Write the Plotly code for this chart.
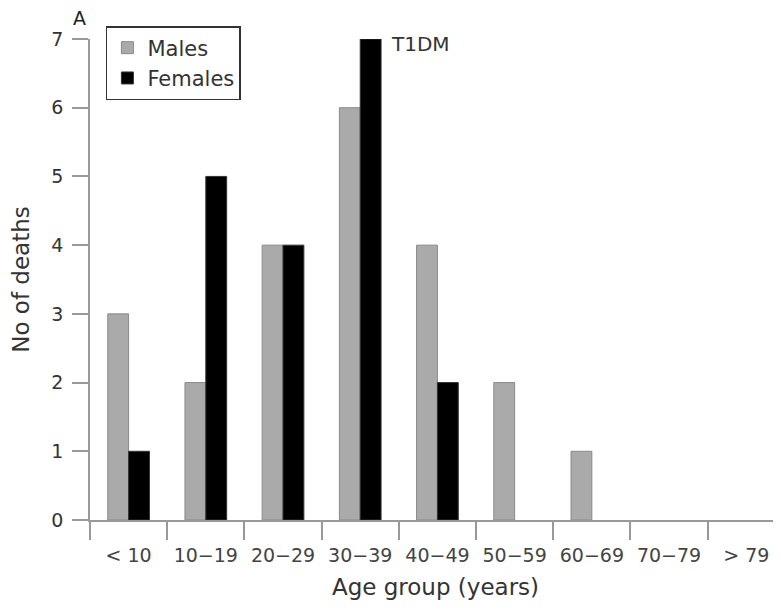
import plotly.graph_objects as go

categories = ["< 10", "10−19", "20−29", "30−39", "40−49", "50−59", "60−69", "70−79", "> 79"]
males = [3, 2, 4, 6, 4, 2, 1, 0, 0]
females = [1, 5, 4, 7, 2, 0, 0, 0, 0]
y_ticks = [0, 1, 2, 3, 4, 5, 6, 7]

font = "DejaVu Sans, Liberation Sans, Arial, sans-serif"

fig = go.Figure()
fig.add_trace(go.Bar(name="Males", x=categories, y=males,
                     marker=dict(color="#aaaaaa",
                                 line=dict(color="#8a8a8a", width=[1 if v > 0 else 0 for v in males]))))
fig.add_trace(go.Bar(name="Females", x=categories, y=females,
                     marker=dict(color="#000000",
                                 line=dict(color="#333333", width=[1 if v > 0 else 0 for v in females]))))

# page body has an 8px margin: figure is sized / offset to compensate
fig.update_layout(
    width=773, height=602,
    margin=dict(l=82, r=0, t=31, b=90),
    barmode="group", bargap=0.46, bargroupgap=0,
    plot_bgcolor="white", paper_bgcolor="white",
    font=dict(family=font, color="#333333", size=20),
    showlegend=True,
    legend=dict(x=0.023, y=1.027, xanchor="left", yanchor="top",
                bordercolor="#333333", borderwidth=1.5, bgcolor="white",
                font=dict(size=21, color="#333333"), itemwidth=30,
                tracegroupgap=0),
    xaxis=dict(
        type="category", range=[-0.5, 8.45], automargin=False,
        showline=True, linecolor="#999999", linewidth=1.5,
        ticks="outside", tickson="boundaries", ticklen=18, tickcolor="#999999", tickwidth=1.5,
        tickfont=dict(size=19, color="#444444"), ticklabelstandoff=17,
        title=dict(text="Age group (years)", font=dict(size=23, color="#333333"), standoff=14),
        showgrid=False, zeroline=False,
    ),
    yaxis=dict(
        range=[0, 7], tickvals=y_ticks, automargin=False,
        showline=True, linecolor="#999999", linewidth=1.5,
        ticks="outside", ticklen=16, tickcolor="#999999", tickwidth=1.5,
        tickfont=dict(size=19, color="#333333"), ticklabelstandoff=5,
        title=dict(text="No of deaths", font=dict(size=23, color="#333333"), standoff=16),
        showgrid=False, zeroline=False,
    ),
    annotations=[
        dict(text="A", xref="paper", yref="paper", x=(71 - 90) / 691, y=(520 - 5) / 481,
             xanchor="left", yanchor="top", showarrow=False, font=dict(size=19, color="#222222")),
        dict(text="T1DM", xref="paper", yref="paper", x=(389 - 90) / 691, y=(520 - 30) / 481,
             xanchor="left", yanchor="top", showarrow=False, font=dict(size=20, color="#333333")),
    ],
)

fig.write_html("out.html")
